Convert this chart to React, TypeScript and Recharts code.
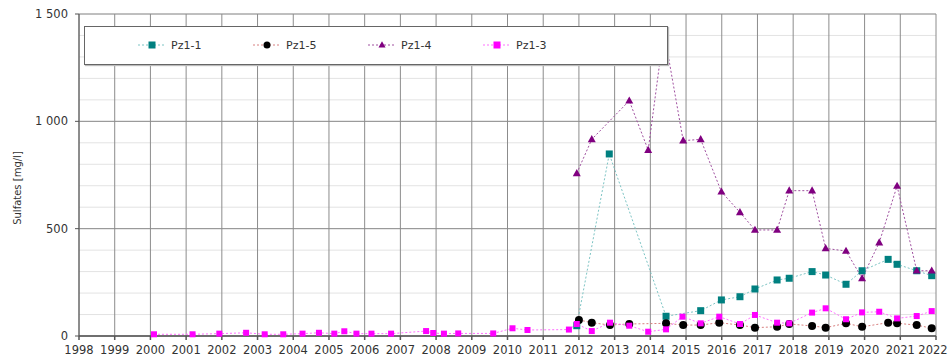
import React from "react";
import {
  LineChart,
  Line,
  XAxis,
  YAxis,
  CartesianGrid,
  Legend,
  Label,
} from "recharts";

// Sampling dates (decimal years) and sulfate values in mg/l
const pz11Years = [2011.94, 2012.85, 2014.44, 2015.41, 2015.99, 2016.51, 2016.93, 2017.55, 2017.89, 2018.53, 2018.91, 2019.48, 2019.93, 2020.66, 2020.91, 2021.46, 2021.88];
const pz11Values = [48, 848, 92, 118, 168, 183, 219, 261, 269, 300, 284, 241, 304, 357, 334, 304, 281];

const pz15Years = [2012.0, 2012.36, 2012.87, 2013.41, 2014.44, 2014.92, 2015.41, 2015.93, 2016.51, 2016.93, 2017.55, 2017.89, 2018.53, 2018.91, 2019.48, 2019.93, 2020.66, 2020.91, 2021.46, 2021.88];
const pz15Values = [75, 62, 51, 56, 59, 51, 51, 62, 51, 39, 43, 56, 47, 39, 59, 43, 62, 59, 51, 36];

const pz14Years = [2011.94, 2012.36, 2013.41, 2013.94, 2014.38, 2014.92, 2015.41, 2015.99, 2016.51, 2016.93, 2017.55, 2017.89, 2018.53, 2018.91, 2019.48, 2019.93, 2020.41, 2020.91, 2021.46, 2021.88];
const pz14Values = [758, 916, 1096, 866, 1420, 910, 916, 672, 576, 494, 494, 677, 677, 408, 396, 269, 435, 699, 304, 304];

const pz13Years = [2000.1, 2001.18, 2001.93, 2002.68, 2003.2, 2003.72, 2004.26, 2004.72, 2005.15, 2005.43, 2005.77, 2006.19, 2006.74, 2007.72, 2007.92, 2008.22, 2008.62, 2009.6, 2010.14, 2010.56, 2011.72, 2011.94, 2012.36, 2012.87, 2013.41, 2013.94, 2014.44, 2014.9, 2015.41, 2015.93, 2016.51, 2016.93, 2017.55, 2017.89, 2018.53, 2018.91, 2019.48, 2019.93, 2020.41, 2020.91, 2021.46, 2021.88];
const pz13Values = [8, 8, 11, 15, 8, 8, 11, 15, 11, 22, 11, 11, 11, 23, 14, 11, 12, 12, 36, 28, 30, 56, 23, 62, 48, 20, 31, 90, 59, 90, 56, 98, 62, 59, 109, 129, 78, 110, 113, 82, 93, 116];

const yearTicks = [1998, 1999, 2000, 2001, 2002, 2003, 2004, 2005, 2006, 2007, 2008, 2009, 2010, 2011, 2012, 2013, 2014, 2015, 2016, 2017, 2018, 2019, 2020, 2021, 2022];
const valueTicks = [0, 500, 1000, 1500];
const minorValues = [0, 100, 200, 300, 400, 500, 600, 700, 800, 900, 1000, 1100, 1200, 1300, 1400, 1500];

const toRows = (xs: number[], ys: number[]) => xs.map((x, i) => ({ x, v: ys[i] }));

const FONT = "'DejaVu Sans', sans-serif";

type Shape = "square" | "circle" | "triangle";

const marker = (shape: Shape, fill: string, size: number, cx: number, cy: number, key?: string) => {
  if (shape === "square") {
    return <rect key={key} x={cx - size / 2} y={cy - size / 2} width={size} height={size} fill={fill} />;
  }
  if (shape === "circle") {
    return <circle key={key} cx={cx} cy={cy} r={size / 2} fill={fill} />;
  }
  const h = size * 0.9;
  return (
    <polygon
      key={key}
      points={`${cx},${cy - h * 0.6} ${cx - size / 2},${cy + h * 0.4} ${cx + size / 2},${cy + h * 0.4}`}
      fill={fill}
    />
  );
};

const dotFor = (shape: Shape, fill: string, size: number) => (props: any) =>
  marker(shape, fill, size, props.cx, props.cy, `${shape}-${props.index}`);

const series = [
  { name: "Pz1-1", data: toRows(pz11Years, pz11Values), line: "#7cc4c4", fill: "#008080", shape: "square" as Shape, size: 7 },
  { name: "Pz1-5", data: toRows(pz15Years, pz15Values), line: "#d88080", fill: "#000000", shape: "circle" as Shape, size: 8 },
  { name: "Pz1-4", data: toRows(pz14Years, pz14Values), line: "#a050a0", fill: "#800080", shape: "triangle" as Shape, size: 8 },
  { name: "Pz1-3", data: toRows(pz13Years, pz13Values), line: "#ff70ff", fill: "#ff00ff", shape: "square" as Shape, size: 6 },
];

const LegendBox = () => (
  <div
    style={{
      position: "relative",
      width: 584,
      height: 39,
      boxSizing: "border-box",
      border: "1px solid #666",
      background: "#fff",
      boxShadow: "1px 1px 1px #bbb",
      fontFamily: FONT,
      fontSize: 11,
      color: "#333",
    }}
  >
    {series.map((s, i) => (
      <div
        key={s.name}
        style={{ position: "absolute", left: 53 + i * 115, top: 11, display: "flex", alignItems: "center" }}
      >
        <svg width={28} height={14}>
          <line x1={0} y1={7} x2={28} y2={7} stroke={s.line} strokeDasharray="2 2" />
          {marker(s.shape, s.fill, 7, 14, 7)}
        </svg>
        <span style={{ marginLeft: 5 }}>{s.name}</span>
      </div>
    ))}
  </div>
);

// keep the last year label inside the picture
const YearTick = (props: any) => {
  const { x, y, payload } = props;
  const cx = Math.min(x, 933);
  return (
    <text x={cx} y={y} dy="0.71em" textAnchor="middle" fontFamily={FONT} fontSize={11.5} fill="#333">
      {payload.value}
    </text>
  );
};

const fmt = (v: number) => (v >= 1000 ? `${Math.floor(v / 1000)} ${String(v % 1000).padStart(3, "0")}` : `${v}`);

export default function App() {
  return (
    <div style={{ position: "absolute", left: 0, top: 0 }}>
      <LineChart width={949} height={358} margin={{ top: 14, right: 13, left: 0, bottom: 0 }}>
        <CartesianGrid horizontalValues={minorValues} vertical={false} stroke="#e3e3e3" />
        <CartesianGrid horizontalValues={valueTicks} verticalValues={yearTicks} stroke="#8c8c8c" />
        <XAxis
          dataKey="x"
          type="number"
          domain={[1998, 2022]}
          ticks={yearTicks}
          interval={0}
          allowDataOverflow
          height={22}
          tickSize={4}
          tickMargin={6}
          stroke="#555"
          strokeWidth={1.5}
          tick={<YearTick />}
        />
        <YAxis
          domain={[0, 1500]}
          ticks={valueTicks}
          interval={0}
          width={79}
          tickSize={4}
          tickMargin={7}
          stroke="#555"
          tickFormatter={fmt}
          tick={{ fontFamily: FONT, fontSize: 11.5, fill: "#333" }}
        >
          <Label
            content={() => (
              <text
                x={21}
                y={188}
                transform="rotate(-90 21 188)"
                textAnchor="middle"
                fontFamily={FONT}
                fontSize={10}
                fill="#333"
              >
                Sulfates [mg/l]
              </text>
            )}
          />
        </YAxis>
        {series.map((s) => (
          <Line
            key={s.name}
            data={s.data}
            dataKey="v"
            name={s.name}
            type="linear"
            stroke={s.line}
            strokeWidth={1}
            strokeDasharray="2 2"
            dot={dotFor(s.shape, s.fill, s.size)}
            activeDot={false}
            isAnimationActive={false}
          />
        ))}
        <Legend
          layout="horizontal"
          verticalAlign="middle"
          align="center"
          content={() => <LegendBox />}
          wrapperStyle={{ left: 84, top: 26, width: 584, height: 39 }}
        />
      </LineChart>
    </div>
  );
}
